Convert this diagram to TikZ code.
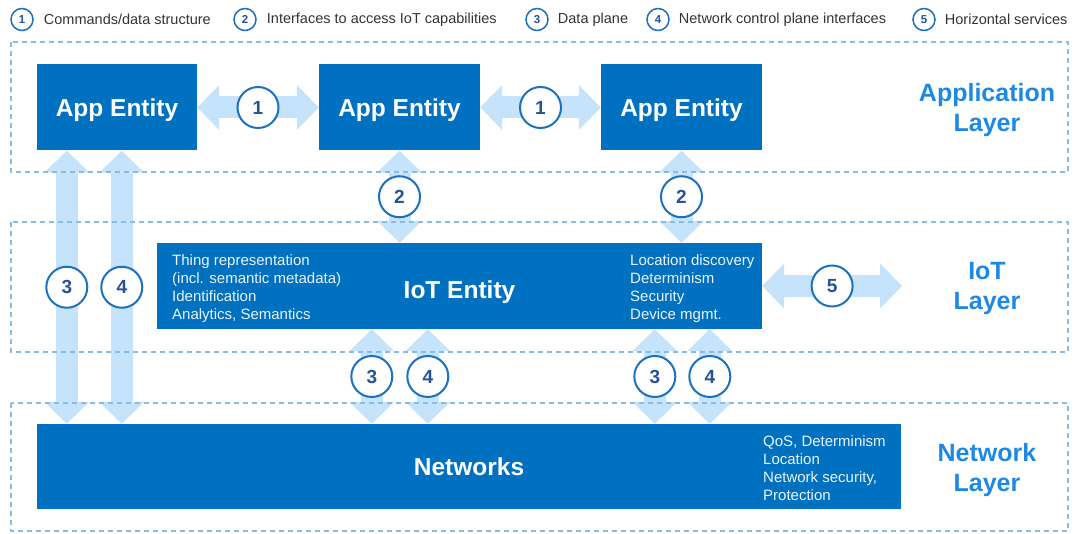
\documentclass[tikz,border=0pt]{standalone}
\usepackage{fontspec}
\setmainfont{Liberation Sans}
\usetikzlibrary{positioning,arrows.meta}
\definecolor{boxblue}{RGB}{0,112,192}
\definecolor{arrowblue}{RGB}{197,227,250}
\definecolor{ringblue}{RGB}{28,112,192}
\definecolor{digitblue}{RGB}{38,82,150}
\definecolor{layerblue}{RGB}{30,136,229}
\definecolor{frameblue}{RGB}{135,188,232}
\tikzset{
  entity/.style={fill=boxblue, text=white, inner sep=0pt, text depth=0pt, font=\fontsize{24.5}{28}\selectfont\bfseries},
  listtxt/.style={text=white!92!boxblue, anchor=north west, align=left, inner sep=0pt, font=\fontsize{15}{18}\selectfont},
  layertxt/.style={text=layerblue, align=center, inner sep=0pt, font=\fontsize{25}{30}\selectfont\bfseries},
  layerframe/.style={draw=frameblue, line width=1.2pt, dash pattern=on 5pt off 4pt},
  fat/.style={color=arrowblue, line width=22pt,
    {Triangle[width=45pt,length=22pt,line width=0pt,fill=arrowblue]}-{Triangle[width=45pt,length=22pt,line width=0pt,fill=arrowblue]}},
  num/.style={shape=circle, draw=ringblue, line width=2pt, fill=white, minimum size=41pt, inner sep=0pt,
    text=digitblue, font=\fontsize{19}{19}\selectfont\bfseries},
  legnum/.style={shape=circle, draw=ringblue, line width=1.5pt, fill=white, minimum size=22pt, inner sep=0pt,
    text=digitblue, font=\fontsize{11.5}{11.5}\selectfont\bfseries},
  legtxt/.style={text=black!80, inner sep=0pt, font=\fontsize{14.5}{16}\selectfont}
}
\begin{document}
\begin{tikzpicture}[x=1pt, y=-1pt]
\useasboundingbox (0,0) rectangle (1074,534);

\node[legnum] (k1) at (22,19.5) {1};
\node[legtxt, right=10pt of k1] (t1) {Commands/data structure};
\node[legnum] (k2) at (245,19.5) {2};
\node[legtxt, right=10pt of k2] (t2) {Interfaces to access IoT capabilities};
\node[legnum] (k3) at (537,19.5) {3};
\node[legtxt, right=9pt of k3] (t3) {Data plane};
\node[legnum] (k4) at (658,19.5) {4};
\node[legtxt, right=9pt of k4] (t4) {Network control plane interfaces};
\node[legnum] (k5) at (924,19.5) {5};
\node[legtxt, right=9pt of k5] (t5) {Horizontal services};

\node[entity, minimum width=160pt, minimum height=86pt] (app1) at (117,107.5) {App Entity};
\node[entity, minimum width=161pt, minimum height=86pt] (app2) at (399.5,107.5) {App Entity};
\node[entity, minimum width=161pt, minimum height=86pt] (app3) at (681.5,107.5) {App Entity};
\node[entity, minimum width=605pt, minimum height=86pt, text height=25pt] (iot) at (459.5,286) {IoT Entity};
\node[entity, minimum width=864pt, minimum height=85pt] (net) at (469,466.5) {Networks};
\coordinate (sideend) at (902,286);

\node[listtxt] (iotleft) at (172,254.5) {Thing representation\\(incl. semantic metadata)\\Identification\\Analytics, Semantics};
\node[listtxt] (iotright) at (630,254.5) {Location discovery\\Determinism\\Security\\Device mgmt.};
\node[listtxt] (netright) at (763,435) {QoS, Determinism\\Location\\Network security,\\Protection};

\node[layertxt] (applayer) at (987,110) {Application\\Layer};
\node[layertxt] (iotlayer) at (987,288) {IoT\\Layer};
\node[layertxt] (netlayer) at (987,470) {Network\\Layer};

\draw[fat] (app1) -- node[num] {1} (app2);
\draw[fat] (app2) -- node[num] {1} (app3);
\draw[fat] (app2.south) -- node[num] {2} (app2.south |- iot.north);
\draw[fat] (app3.south) -- node[num] {2} (app3.south |- iot.north);
\draw[fat] ([xshift=30pt]app1.south west) -- node[num] {3} ([xshift=30pt]net.north west);
\draw[fat] ([xshift=85pt]app1.south west) -- node[num] {4} ([xshift=85pt]net.north west);
\draw[fat] ([xshift=215pt]iot.south west) -- node[num] {3} ([xshift=335pt]net.north west);
\draw[fat] ([xshift=271pt]iot.south west) -- node[num] {4} ([xshift=391pt]net.north west);
\draw[fat] ([xshift=498pt]iot.south west) -- node[num] {3} ([xshift=618pt]net.north west);
\draw[fat] ([xshift=553pt]iot.south west) -- node[num] {4} ([xshift=673pt]net.north west);
\draw[fat] (iot.east) -- node[num] {5} (sideend);

\draw[layerframe] (11,42) rectangle (1068,172);
\draw[layerframe] (11,222) rectangle (1068,352);
\draw[layerframe] (11,403) rectangle (1068,531);
\end{tikzpicture}
\end{document}
